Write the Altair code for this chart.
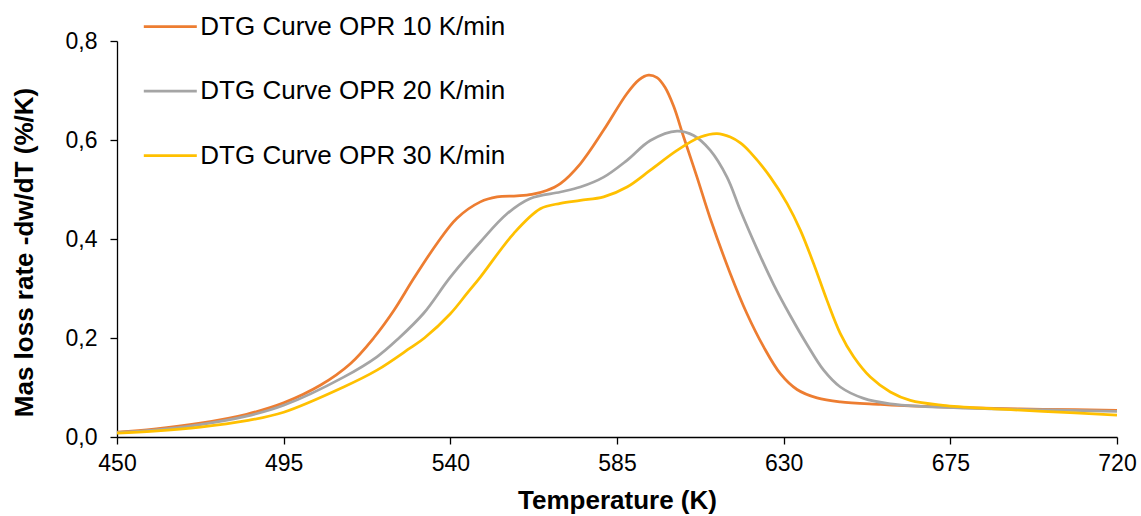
import altair as alt
import pandas as pd

series_names = ["DTG Curve OPR 10 K/min", "DTG Curve OPR 20 K/min", "DTG Curve OPR 30 K/min"]
series_colors = ["#ED7D31", "#A5A5A5", "#FFC000"]

t10 = [450, 460, 472.5, 485, 495, 505, 513, 519.3, 524.7, 530.1, 536.4, 541.8, 548.1, 552.6, 558,
       562, 566, 569.7, 575.1, 581.4, 587.7, 591, 593.5, 595.8, 598, 600.3, 603, 606.6, 610.2, 615.6, 620.1,
       624.6, 629.1, 633.6, 639, 645.3, 656.1, 664, 686.7, 700, 720]
v10 = [0.010, 0.016, 0.028, 0.046, 0.069, 0.105, 0.148, 0.200, 0.255, 0.320, 0.391, 0.442, 0.475, 0.485, 0.487,
       0.490, 0.498, 0.512, 0.552, 0.620, 0.694, 0.722, 0.731, 0.726, 0.706, 0.668, 0.606, 0.525, 0.441, 0.330, 0.249,
       0.182, 0.128, 0.096, 0.079, 0.071, 0.066, 0.063, 0.058, 0.056, 0.054]

t20 = [450, 460, 472.5, 485, 495, 511.2, 520.2, 526, 532.8, 540, 548.1, 555.3, 561.6, 569.7, 575.1,
       581.4, 587.7, 594, 601.2, 605.7, 610.2, 614.7, 618.3, 622.8, 627.3, 631.8, 636.3, 640.8,
       645.3, 651.6, 658.8, 667, 686.7, 720]
v20 = [0.009, 0.014, 0.025, 0.042, 0.064, 0.121, 0.162, 0.199, 0.250, 0.323, 0.394, 0.451, 0.482, 0.495, 0.505,
       0.525, 0.559, 0.599, 0.618, 0.609, 0.579, 0.525, 0.458, 0.380, 0.308, 0.245, 0.187, 0.135,
       0.101, 0.078, 0.067, 0.062, 0.057, 0.052]

t30 = [450, 460, 472.5, 485, 495, 511.2, 520.2, 529.2, 533, 540, 544.5, 548.1, 557.1, 564.3, 569.7,
       575.1, 581.4, 587.7, 594, 601.2, 607.5, 612, 615.6, 618.3, 621, 626.4, 630.9, 634.5, 638.1,
       641.7, 645.3, 648.9, 653.4, 658.8, 664.2, 673, 686.7, 700, 720]
v30 = [0.008, 0.012, 0.020, 0.033, 0.050, 0.101, 0.135, 0.180, 0.200, 0.249, 0.290, 0.323, 0.411, 0.461, 0.472,
       0.478, 0.485, 0.505, 0.539, 0.579, 0.606, 0.613, 0.606, 0.594, 0.575, 0.525, 0.472, 0.418, 0.350,
       0.276, 0.209, 0.162, 0.121, 0.091, 0.074, 0.064, 0.057, 0.052, 0.044]

x_ticks = [450, 495, 540, 585, 630, 675, 720]
y_ticks = [0.0, 0.2, 0.4, 0.6, 0.8]

rows = []
for name, ts, vs in zip(series_names, [t10, t20, t30], [v10, v20, v30]):
    for t, v in zip(ts, vs):
        rows.append({"series": name, "T": t, "v": v})
df = pd.DataFrame(rows)

FONT = "Liberation Sans"

chart = alt.Chart(df).mark_line(strokeWidth=2.75, interpolate="catmull-rom").encode(
    x=alt.X("T:Q",
            scale=alt.Scale(domain=[450, 720], nice=False, zero=False),
            axis=alt.Axis(values=x_ticks, grid=False, format="d", title="Temperature (K)",
                          labelFlush=False, tickSize=7, labelPadding=8,
                          titleBaseline="alphabetic", titleY=71)),
    y=alt.Y("v:Q",
            scale=alt.Scale(domain=[0, 0.8], nice=False),
            axis=alt.Axis(values=y_ticks, grid=False, title="Mas loss rate -dw/dT (%/K)",
                          labelExpr="replace(format(datum.value, '.1f'), '.', ',')",
                          tickSize=7, labelPadding=13,
                          titleBaseline="alphabetic", titleX=-85, titleY=211)),
    color=alt.Color("series:N",
                    scale=alt.Scale(domain=series_names, range=series_colors),
                    legend=alt.Legend(title=None, orient="none", legendX=25.3, legendY=-42.5,
                                      symbolType="stroke", symbolSize=2809, symbolStrokeWidth=2.75,
                                      labelOffset=2, rowPadding=23.5, padding=0,
                                      labelFont=FONT, labelFontSize=26, labelColor="#000000",
                                      labelLimit=600)),
    order=alt.Order("series:N")
).properties(
    width=1000, height=396,
    autosize=alt.AutoSizeParams(type="none"),
    padding={"left": 117, "top": 41, "right": 24, "bottom": 79},
    background="white"
).configure_view(
    stroke=None
).configure_axis(
    labelFont=FONT, labelFontSize=23, labelColor="#000000",
    titleFont=FONT, titleFontSize=26, titleFontWeight="bold", titleColor="#000000",
    domainColor="#000000", domainWidth=1.3, tickColor="#000000", tickWidth=1.3
)

chart.save("out.html", embed_options={"renderer": "svg", "actions": False})
